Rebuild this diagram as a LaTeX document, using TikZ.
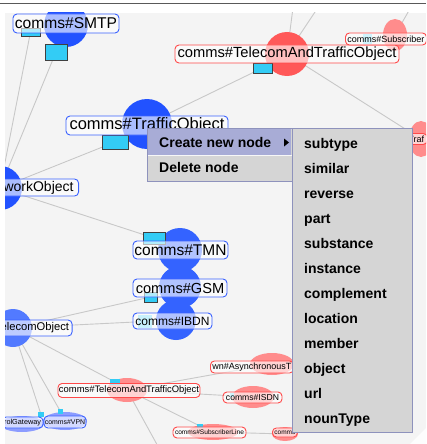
\documentclass[tikz,border=0pt]{standalone}
\usepackage{fontspec}
\setmainfont{Liberation Sans}
\usetikzlibrary{shapes.geometric}
\definecolor{canvas}{HTML}{F4F4F4}
\definecolor{nblue}{HTML}{2252FF}
\definecolor{nbluem}{HTML}{3463FF}
\definecolor{nbluel}{HTML}{8C9CFF}
\definecolor{nred}{HTML}{FF5858}
\definecolor{nredl}{HTML}{FF8C8C}
\definecolor{bblue}{HTML}{3A62FF}
\definecolor{bred}{HTML}{FF4A4A}
\definecolor{cbox}{HTML}{33CCF5}
\definecolor{edgec}{HTML}{C8C8C8}
\definecolor{menubg}{HTML}{D5D5D5}
\definecolor{menuhl}{HTML}{A8ACD6}
\definecolor{menubd}{HTML}{8E92BC}
\newcommand{\fs}[1]{\fontsize{#1}{#1}\selectfont}
\pgfdeclarelayer{backlayer}
\pgfdeclarelayer{edgelayer}
\pgfsetlayers{backlayer,edgelayer,main}
\begin{document}
\begin{tikzpicture}[x=1pt,y=-1pt,
  blob/.style={circle, inner sep=0pt, draw=none},
  blobe/.style={ellipse, inner sep=0pt, draw=none},
  lbl/.style={draw, rounded corners=4pt, fill=white, fill opacity=0.62, text opacity=1, inner sep=0pt, line width=0.9pt},
  bl/.style={lbl, draw=bblue},
  rl/.style={lbl, draw=bred},
  cb/.style={rectangle, fill=cbox, draw=black!75, line width=0.8pt, inner sep=0pt},
  cbl/.style={rectangle, fill=cbox, draw=none, inner sep=0pt},
  ed/.style={draw=edgec, line width=0.9pt},
  mitem/.style={anchor=base west, inner sep=0pt, font=\bfseries\fs{14}},
  mpanel/.style={rectangle, anchor=north west, inner sep=0pt, draw=menubd, fill=menubg, line width=0.8pt}
]
\useasboundingbox (0,0) rectangle (426,444);
\begin{pgfonlayer}{backlayer}
\fill[white] (0,0) rectangle (426,444);
\fill[canvas] (5,13) rectangle (426,444);
\draw[black!65, line width=1.3pt] (0,3.5) -- (426,3.5);
\end{pgfonlayer}

\begin{scope}
\clip (5,13) rectangle (426,444);
% off-canvas edge ends
\coordinate (offA) at (294,0);
\coordinate (offB) at (323,0);
\coordinate (offC) at (160,450);
\coordinate (offD) at (415,0);

% blobs (node bodies)
\node[blob, fill=nblue, minimum size=44pt] (smtpC) at (66,25) {};
\node[blob, fill=nred, minimum size=44pt] (tatTC) at (287,54) {};
\node[blob, fill=nblue, minimum size=50pt] (toC) at (147,124) {};
\node[blob, fill=nblue, minimum size=44pt] (workC) at (0,188) {};
\node[blobe, fill=nredl, minimum width=24pt, minimum height=32pt] (subsC) at (395,35) {};
\node[blobe, fill=nredl, minimum width=24pt, minimum height=36pt] (trafC) at (421,139) {};
\node[blob, fill=nbluem, minimum size=40pt] (ibdnC) at (176,320) {};
\node[blob, fill=nbluem, minimum size=42pt] (gsmC) at (180,287) {};
\node[blob, fill=nbluem, minimum size=44pt] (tmnC) at (180,250) {};
\node[blob, fill=nbluem!85!white, minimum size=38pt] (eleC) at (13,328) {};
\node[blobe, fill=nredl, minimum width=40pt, minimum height=24pt] (tatLC) at (127,390) {};
\node[blobe, fill=nredl, minimum width=44pt, minimum height=22pt] (asyncC) at (272,364) {};
\node[blobe, fill=nredl, minimum width=42pt, minimum height=22pt] (isdnC) at (253,397) {};
\node[blobe, fill=nredl, minimum width=50pt, minimum height=16pt] (sublC) at (213,432) {};
\node[blobe, fill=nredl, minimum width=26pt, minimum height=14pt] (commsC) at (285,434) {};
\node[blobe, fill=nbluel, minimum width=44pt, minimum height=16pt] (gateC) at (22,424) {};
\node[blobe, fill=nbluel, minimum width=44pt, minimum height=18pt] (vpnC) at (65,421) {};

% relation boxes
\node[cb, minimum width=19pt, minimum height=8pt] (smtpA) at (30.5,32) {};
\node[cb, minimum width=22pt, minimum height=16pt] (smtpB) at (56,52) {};
\node[cb, minimum width=19pt, minimum height=10pt] (tatTB) at (262.5,68) {};
\node[cb, minimum width=26pt, minimum height=14pt] (toB) at (115,142) {};
\node[cb, minimum width=22pt, minimum height=12pt] (tmnB) at (154,238) {};
\node[cb, minimum width=13pt, minimum height=10pt] (gsmB) at (150.5,297) {};
\node[cbl, fill=cbox!70, minimum width=14pt, minimum height=13pt] (ibdnB) at (145,321.5) {};
\node[cbl, minimum width=10pt, minimum height=6pt] (tatLB) at (115,382) {};
\node[cbl, minimum width=6pt, minimum height=5pt] (gateB) at (41,414.5) {};
\node[cbl, minimum width=5pt, minimum height=5pt] (vpnB) at (60.5,411.5) {};
\node[cbl, minimum width=6pt, minimum height=4pt] (sublB) at (200,426) {};
\node[cbl, fill=cbox!60, minimum width=9pt, minimum height=10pt] (subsB) at (367.5,39) {};
\node[cbl, fill=cbox!60, minimum width=4pt, minimum height=4pt] (isdnB) at (232,395) {};

% labels
\node[bl, minimum width=106pt, minimum height=19pt, font=\fs{15.6}] (smtpL) at (66,23.5) {comms\#SMTP};
\node[rl, minimum width=224pt, minimum height=18pt, font=\fs{14.7}] (tatTL) at (287,54) {comms\#TelecomAndTrafficObject};
\node[rl, anchor=west, inner xsep=2pt, minimum height=12pt, font=\fs{9}] (subsL) at (345,39) {comms\#Subscriber};
\node[bl, minimum width=162pt, minimum height=19pt, font=\fs{16.5}] (toL) at (147,125.5) {comms\#TrafficObject};
\node[bl, anchor=east, inner xsep=5pt, minimum height=17pt, font=\fs{14}] (workL) at (79,187.5) {workObject};
\node[rl, anchor=west, inner xsep=3pt, minimum height=11pt, font=\fs{9}] (trafL) at (405,139) {Traf};
\node[bl, minimum width=95pt, minimum height=18pt, font=\fs{15.5}] (tmnL) at (180.5,250) {comms\#TMN};
\node[bl, minimum width=94pt, minimum height=18pt, font=\fs{14.6}] (gsmL) at (180,288) {comms\#GSM};
\node[bl, minimum width=79pt, minimum height=16pt, font=\fs{12}] (ibdnL) at (172.5,321) {comms\#IBDN};
\node[bl, anchor=east, inner xsep=3pt, minimum height=16pt, font=\fs{11.2}] (eleL) at (72.5,328) {elecomObject};
\node[rl, minimum width=142pt, minimum height=14pt, font=\fs{9.4}] (tatLL) at (129,390.5) {comms\#TelecomAndTrafficObject};
\node[rl, anchor=west, inner xsep=2pt, minimum height=12pt, font=\fs{9}] (asyncL) at (210,367) {wn\#AsynchronousT};
\node[rl, minimum width=59pt, minimum height=11pt, font=\fs{8.6}] (isdnL) at (252.5,397.5) {comms\#ISDN};
\node[rl, minimum width=73pt, minimum height=11pt, font=\fs{6.6}] (sublL) at (209.5,432.5) {comms\#SubscriberLine};
\node[rl, anchor=west, inner xsep=2pt, minimum height=9pt, font=\fs{6.5}] (commsL) at (272,432.5) {comms};
\node[bl, anchor=east, inner xsep=2pt, minimum height=11pt, font=\fs{7.3}] (gateL) at (43.5,422.5) {rolGateway};
\node[bl, minimum width=42pt, minimum height=12pt, font=\fs{6.9}] (vpnL) at (65,422) {comms\#VPN};
\end{scope}

% edges, behind node bodies
\begin{pgfonlayer}{edgelayer}
\begin{scope}
\clip (5,13) rectangle (426,444);
\draw[ed] (smtpA.center) -- (workC.center);
\draw[ed] (smtpB.center) -- (workC.center);
\draw[ed] (toB.center) -- (workC.center);
\draw[ed] (toC.center) -- (tatTB.center);
\draw[ed] (tatTC.center) -- (offA);
\draw[ed] (tatTC.center) -- (offB);
\draw[ed] (tatTC.center) -- (trafC.center);
\draw[ed] (subsC.center) -- (offD);
\draw[ed] (workC.center) -- (tmnB.center);
\draw[ed] (gsmB.center) -- (eleC.center);
\draw[ed] (ibdnB.center) -- (eleC.center);
\draw[ed] (eleC.center) -- (tatLB.center);
\draw[ed] (eleC.center) -- (gateB.center);
\draw[ed] (eleC.center) -- (vpnB.center);
\draw[ed] (tatLC.center) -- (asyncC.center);
\draw[ed] (tatLC.center) -- (isdnC.center);
\draw[ed] (tatLC.center) -- (sublB.center);
\draw[ed] (tatLC.center) -- (offC);
\draw[ed] (sublC.center) -- (commsC.center);
\end{scope}
\end{pgfonlayer}

% corner
\fill[white!85!canvas] (410,444) -- (426,428) -- (426,444) -- cycle;

% popup menu
\node[mpanel, minimum width=145pt, minimum height=53pt] (pop) at (147,128) {};
\node[rectangle, anchor=north west, inner sep=0pt, fill=menuhl, minimum width=143.5pt, minimum height=26pt] (hl) at (147.7,128.7) {};
\draw[white!80!menubg, line width=1pt] (hl.south west) -- (hl.south east);
\node[mitem] (create) at (159,147.5) {Create new node};
\node[mitem] (delete) at (159,172.5) {Delete node};
\fill[black] (284,138.5) -- (289,142.5) -- (284,146.5) -- cycle;

% submenu
\node[mpanel, minimum width=120pt, minimum height=304pt] (sub) at (292,128) {};
\node[mitem] (i1) at (304,148) {subtype};
\node[mitem] (i2) at (304,173) {similar};
\node[mitem] (i3) at (304,198) {reverse};
\node[mitem] (i4) at (304,223) {part};
\node[mitem] (i5) at (304,248) {substance};
\node[mitem] (i6) at (304,273) {instance};
\node[mitem] (i7) at (304,298) {complement};
\node[mitem] (i8) at (304,323) {location};
\node[mitem] (i9) at (304,348) {member};
\node[mitem] (i10) at (304,373) {object};
\node[mitem] (i11) at (304,398) {url};
\node[mitem] (i12) at (304,423) {nounType};
\end{tikzpicture}
\end{document}
